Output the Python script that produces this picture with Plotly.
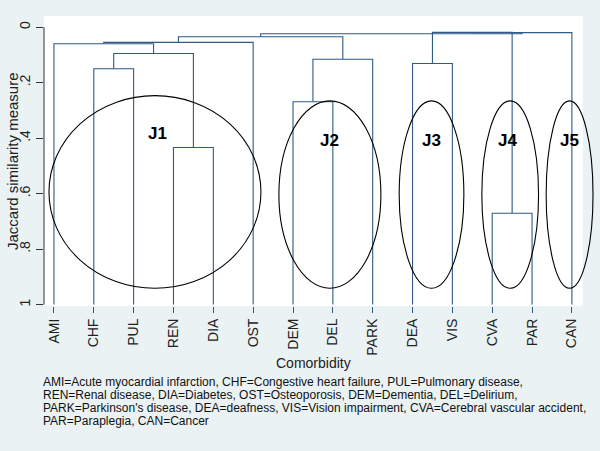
import plotly.graph_objects as go

# ---- data ----
labels = ["AMI", "CHF", "PUL", "REN", "DIA", "OST", "DEM", "DEL", "PARK",
          "DEA", "VIS", "CVA", "PAR", "CAN"]
# linkage: nodes 0..13 are leaves, node 14+k is merge k
merge_left = [3, 1, 15, 0, 17, 6, 19, 18, 9, 11, 22, 24, 21]
merge_right = [4, 2, 14, 16, 5, 7, 8, 20, 10, 12, 23, 13, 25]
merge_height = [0.434, 0.150, 0.095, 0.060, 0.055, 0.269, 0.116, 0.035,
                0.131, 0.671, 0.019, 0.020, 0.024]
y_tickvals = [0, 0.2, 0.4, 0.6, 0.8, 1]
y_ticktext = ["0", ".2", ".4", ".6", ".8", "1"]
cluster_names = ["J1", "J2", "J3", "J4", "J5"]
footnote = [
    "AMI=Acute myocardial infarction, CHF=Congestive heart failure, PUL=Pulmonary disease,",
    "REN=Renal disease, DIA=Diabetes, OST=Osteoporosis, DEM=Dementia, DEL=Delirium,",
    "PARK=Parkinson's disease, DEA=deafness, VIS=Vision impairment, CVA=Cerebral vascular accident,",
    "PAR=Paraplegia, CAN=Cancer",
]

# ---- style / layout constants ----
BG = "#EAF2F3"
LINE = "#2E5A85"
FONT = "Liberation Sans, Arial, sans-serif"
X_LO, X_HI, X_WHITE = 0.75, 14.58, 14.276
Y_LO, Y_HI = -0.04, 1.005
ML, MR, MT, MB = 44, 5, 16, 145
W, H = 600, 451
# ellipse bounds (x0, x1, y0, y1) and label anchor (x, y)
ellipses = [(0.875, 6.195, 0.247, 0.941), (6.646, 9.206, 0.266, 0.941),
            (9.665, 11.289, 0.266, 0.941), (11.74, 13.163, 0.266, 0.941),
            (13.354, 14.53, 0.266, 0.941)]
label_pos = [(3.61, 0.382), (7.91, 0.407), (10.47, 0.407), (12.38, 0.407),
             (13.94, 0.407)]

# ---- build dendrogram segments ----
n = len(labels)
node_x = [i + 1 for i in range(n)]
node_h = [1.0] * n
xs, ys = [], []
for l, r, h in zip(merge_left, merge_right, merge_height):
    xl, xr = node_x[l], node_x[r]
    xs += [xl, xl, xr, xr, None]
    ys += [node_h[l], h, h, node_h[r], None]
    node_x.append((xl + xr) / 2)
    node_h.append(h)

fig = go.Figure()
fig.add_trace(go.Scatter(x=xs, y=ys, mode="lines",
                         line=dict(color=LINE, width=1.1),
                         hoverinfo="skip", showlegend=False))

shapes = [dict(type="rect", xref="x", yref="paper", x0=X_LO, x1=X_WHITE,
               y0=0, y1=1, fillcolor="white", line=dict(width=0), layer="below"),
          dict(type="line", xref="paper", yref="y", x0=0, x1=0, y0=0, y1=1,
               line=dict(color="#333333", width=1))]
for (x0, x1, y0, y1) in ellipses:
    shapes.append(dict(type="circle", xref="x", yref="y", x0=x0, x1=x1,
                       y0=y0, y1=y1, line=dict(color="black", width=1.1)))

annotations = []
for name, (ax, ay) in zip(cluster_names, label_pos):
    annotations.append(dict(x=ax, y=ay, xref="x", yref="y", text="<b>%s</b>" % name,
                            showarrow=False, font=dict(size=17, color="black", family=FONT)))
annotations.append(dict(xref="paper", yref="paper", x=0, y=0.5, xshift=-32,
                        text="Jaccard similarity measure", textangle=-90,
                        showarrow=False, xanchor="center", yanchor="middle",
                        font=dict(size=15, color="#222222", family=FONT)))
x_center_frac = ((X_LO + X_WHITE) / 2 - X_LO) / (X_HI - X_LO)
annotations.append(dict(xref="paper", yref="paper", x=x_center_frac, y=0,
                        yshift=-57, text="Comorbidity", showarrow=False,
                        xanchor="center", yanchor="middle",
                        font=dict(size=14, color="#222222", family=FONT)))
for i, line in enumerate(footnote):
    annotations.append(dict(xref="paper", yref="paper", x=0, y=0, xshift=-3,
                            yshift=-76 - 13 * i, text=line, showarrow=False,
                            xanchor="left", yanchor="middle", align="left",
                            font=dict(size=12, color="#111111", family=FONT)))

fig.update_layout(
    width=W, height=H,
    margin=dict(l=ML, r=MR, t=MT, b=MB, autoexpand=False),
    paper_bgcolor=BG, plot_bgcolor=BG,
    font=dict(family=FONT, color="#222222"),
    shapes=shapes, annotations=annotations,
    xaxis=dict(range=[X_LO, X_HI], tickvals=list(range(1, n + 1)), ticktext=labels,
               tickangle=-90, ticks="outside", ticklen=6, tickcolor=LINE,
               showgrid=False, zeroline=False, showline=False, automargin=False,
               tickfont=dict(size=14, color="#222222", family=FONT)),
    yaxis=dict(range=[Y_HI, Y_LO], tickvals=y_tickvals, ticktext=y_ticktext,
               tickangle=-90, ticks="outside", ticklen=7, tickcolor="#333333",
               showgrid=False, zeroline=False, showline=False, automargin=False,
               tickfont=dict(size=14, color="#222222", family=FONT)),
)

fig.write_html("out.html", config={"displayModeBar": False},
               post_script="document.body.style.margin='0';")
